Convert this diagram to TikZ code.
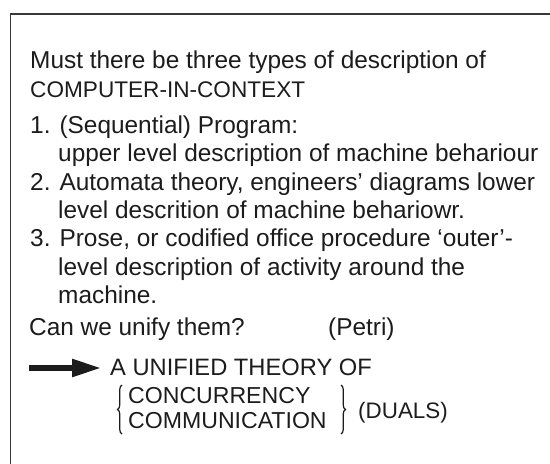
\documentclass[tikz,border=0pt]{standalone}
\usepackage{fontspec}
\setmainfont{Liberation Sans}
\usetikzlibrary{arrows.meta,decorations.pathreplacing}
\definecolor{ink}{HTML}{1C1C1C}
\definecolor{rule}{HTML}{383838}
\begin{document}
\begin{tikzpicture}[x=1pt,y=-1pt,
  txt/.style={anchor=base west, inner sep=0pt, text=ink,
    font=\fontsize{24.4}{29}\selectfont},
  capsA/.style={font=\fontsize{22.6}{27}\selectfont},
  capsB/.style={font=\fontsize{23.7}{28}\selectfont},
  capsC/.style={font=\fontsize{23.1}{27}\selectfont},
  capsD/.style={font=\fontsize{22.4}{27}\selectfont},
  curly/.style={draw=ink, line width=1.2pt,
    decorate, decoration={brace, amplitude=4.5pt}},
  bigarrow/.style={draw=ink, line width=5.5pt,
    -{Triangle[length=29pt,width=17pt]}}]
\useasboundingbox (0,0) rectangle (550,464);
\fill[white] (0,0) rectangle (550,464);

% open frame: top rule and left rule
\draw[rule, line width=1.8pt] (550,14) -- (10.5,14) -- (10.5,464);

% question
\node[txt] (q1) at (30,68) {Must there be three types of description of};
\node[txt, capsA] (q2) at (30,97) {COMPUTER-IN-CONTEXT};

% the three kinds of description
\node[txt] (i1)  at (30,133) {1. (Sequential) Program:};
\node[txt] (i1b) at (58,161) {upper level description of machine behariour};
\node[txt] (i2)  at (30,190) {2. Automata theory, engineers’ diagrams lower};
\node[txt] (i2b) at (58,218) {level descrition of machine behariowr.};
\node[txt] (i3)  at (30,246) {3. Prose, or codified office procedure ‘outer’-};
\node[txt] (i3b) at (58,275) {level description of activity around the};
\node[txt] (i3c) at (58,303) {machine.};

\node[txt] (ask)   at (29,335)  {Can we unify them?};
\node[txt] (petri) at (328,335) {(Petri)};

% conclusion
\coordinate (tail) at (29,368);
\coordinate (tip)  at (101,368);
\draw[bigarrow] (tail) -- (tip);
\node[txt, capsB] (theory) at (110,375) {A UNIFIED THEORY OF};
\node[txt, capsC] (conc)   at (128,403) {CONCURRENCY};
\node[txt, capsC] (comm)   at (128,428) {COMMUNICATION};
\draw[curly] (122,434) -- (122,385);
\draw[curly] (341,385) -- (341,434);
\node[txt, capsD] (duals) at (358,418) {(DUALS)};
\end{tikzpicture}
\end{document}
